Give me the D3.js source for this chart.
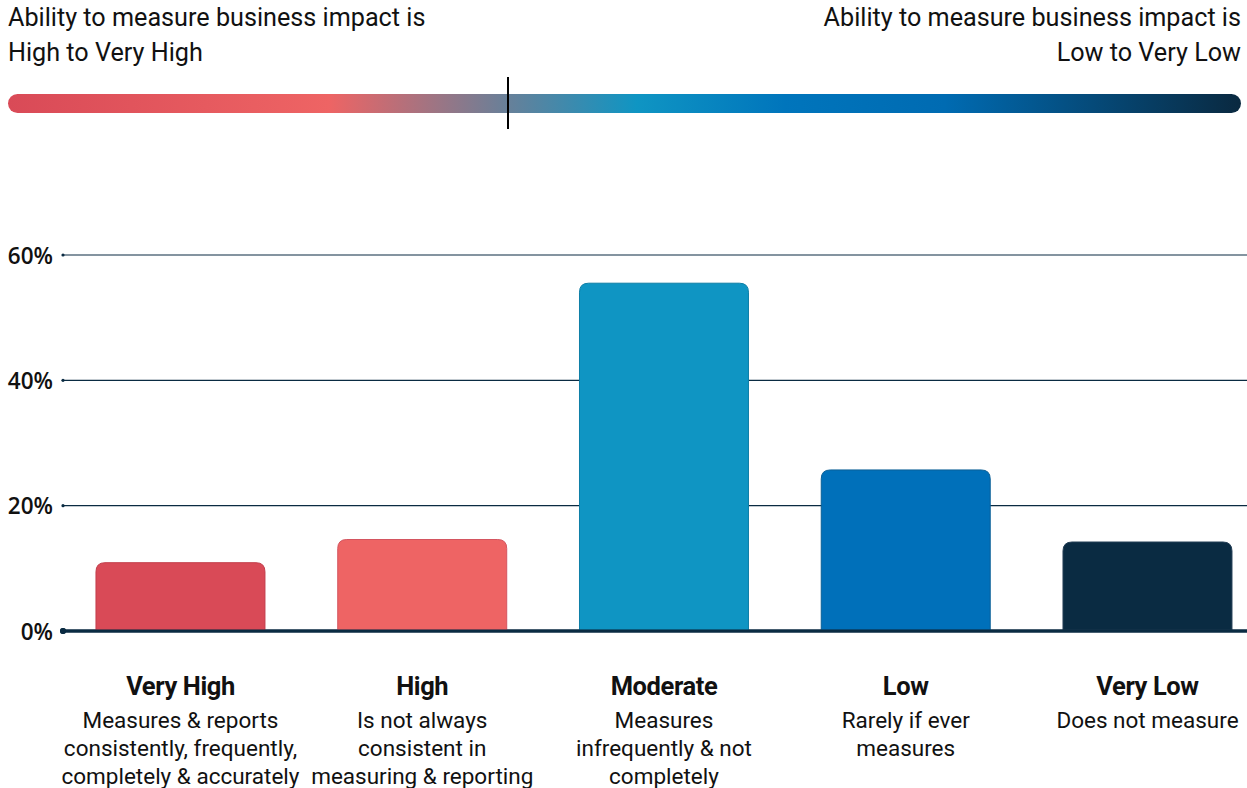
<!DOCTYPE html>
<html><head><meta charset="utf-8">
<script src="https://cdn.jsdelivr.net/npm/d3@7"></script>
<style>
html,body{margin:0;padding:0;background:#fff;}
svg{display:block;}
</style></head>
<body>
<svg id="chart" width="1247" height="788"></svg>
<script>
const categories = ["Very High","High","Moderate","Low","Very Low"];
const descriptions = [
  ["Measures & reports","consistently, frequently,","completely & accurately"],
  ["Is not always","consistent in","measuring & reporting"],
  ["Measures","infrequently & not","completely"],
  ["Rarely if ever","measures"],
  ["Does not measure"]
];
const values = [10.9, 14.6, 55.5, 25.7, 14.2];
const barColors = ["#d94a57","#ee6464","#0f95c3","#0070ba","#0a2b42"];
const barStrokes = ["#c23e4b","#d45560","#0d7ea6","#0a5f96","#233e55"];
const yTicks = [0,20,40,60];
const leftTitle = ["Ability to measure business impact is","High to Very High"];
const rightTitle = ["Ability to measure business impact is","Low to Very Low"];

const svg = d3.select("#chart");
const plotL = 63, plotR = 1247, y0 = 631, yTop = 255;

const x = d3.scaleBand().domain(categories).range([plotL, plotR]).paddingInner(0.301).paddingOuter(0.0993).align(0.687);
const y = d3.scaleLinear().domain([0,60]).range([y0, yTop]);

const tf = "Roboto, sans-serif";
leftTitle.forEach((t,i)=>{
  svg.append("text").attr("x",8).attr("y",26+i*35).attr("font-family",tf).attr("font-size",25.2).attr("fill","#111").text(t);
});
rightTitle.forEach((t,i)=>{
  svg.append("text").attr("x",1241).attr("y",26+i*35).attr("text-anchor","end").attr("font-family",tf).attr("font-size",25.2).attr("fill","#111").text(t);
});

const defs = svg.append("defs");
const g = defs.append("linearGradient").attr("id","grad").attr("x1","0%").attr("x2","100%");
[[0,"#d94a57"],[0.26,"#ee6464"],[0.4,"#6c7f97"],[0.51,"#0f95c3"],[0.63,"#0075bc"],[0.76,"#006bb2"],[1,"#0a2940"]]
  .forEach(([o,c])=>g.append("stop").attr("offset",o).attr("stop-color",c));
svg.append("rect").attr("x",8).attr("y",94).attr("width",1233).attr("height",19).attr("rx",9.5).attr("fill","url(#grad)");
svg.append("line").attr("x1",508).attr("x2",508).attr("y1",77).attr("y2",129).attr("stroke","#000").attr("stroke-width",2);

const grid = svg.append("g");
yTicks.forEach(t=>{
  const yy = y(t);
  grid.append("line").attr("x1",plotL).attr("x2",plotR).attr("y1",yy).attr("y2",yy)
    .attr("stroke","#0a2b42").attr("stroke-width", t===0?3:1.2);
  grid.append("circle").attr("cx",plotL).attr("cy",yy).attr("r",t===0?3:1.6).attr("fill","#0a2b42");
});

const yAxis = d3.axisLeft(y).tickValues(yTicks).tickFormat(d=>d+"%").tickSize(0).tickPadding(10);
const ya = svg.append("g").attr("transform",`translate(${plotL},0)`).call(yAxis);
ya.select(".domain").remove();
ya.selectAll("text").attr("font-family","'Open Sans', sans-serif").attr("font-weight",600).attr("font-size",22.5).attr("fill","#111").attr("dy","0.36em");

function barPath(x0,w,yt,yb,r){
  return `M${x0},${yb} L${x0},${yt+r} Q${x0},${yt} ${x0+r},${yt} L${x0+w-r},${yt} Q${x0+w},${yt} ${x0+w},${yt+r} L${x0+w},${yb} Z`;
}
svg.append("g").selectAll("path").data(categories).join("path")
  .attr("d",(d,i)=>barPath(x(d), x.bandwidth(), y(values[i]), y0-1, 9))
  .attr("fill",(d,i)=>barColors[i]).attr("stroke",(d,i)=>barStrokes[i]).attr("stroke-width",1);

svg.append("line").attr("x1",plotL).attr("x2",plotR).attr("y1",y(0)).attr("y2",y(0)).attr("stroke","#0a2b42").attr("stroke-width",3);
svg.append("circle").attr("cx",plotL).attr("cy",y(0)).attr("r",3).attr("fill","#0a2b42");

const cl = svg.append("g");
categories.forEach((c,i)=>{
  const cx = x(c)+x.bandwidth()/2;
  cl.append("text").attr("x",cx).attr("y",695).attr("text-anchor","middle").attr("font-family",tf)
    .attr("font-weight","bold").attr("font-size",25.5).attr("fill","#111").attr("letter-spacing","-0.4").text(c);
  descriptions[i].forEach((s,j)=>{
    cl.append("text").attr("x",cx).attr("y",728+j*28).attr("text-anchor","middle").attr("font-family",tf)
      .attr("font-size",22.5).attr("fill","#111").text(s);
  });
});
</script>
</body></html>
